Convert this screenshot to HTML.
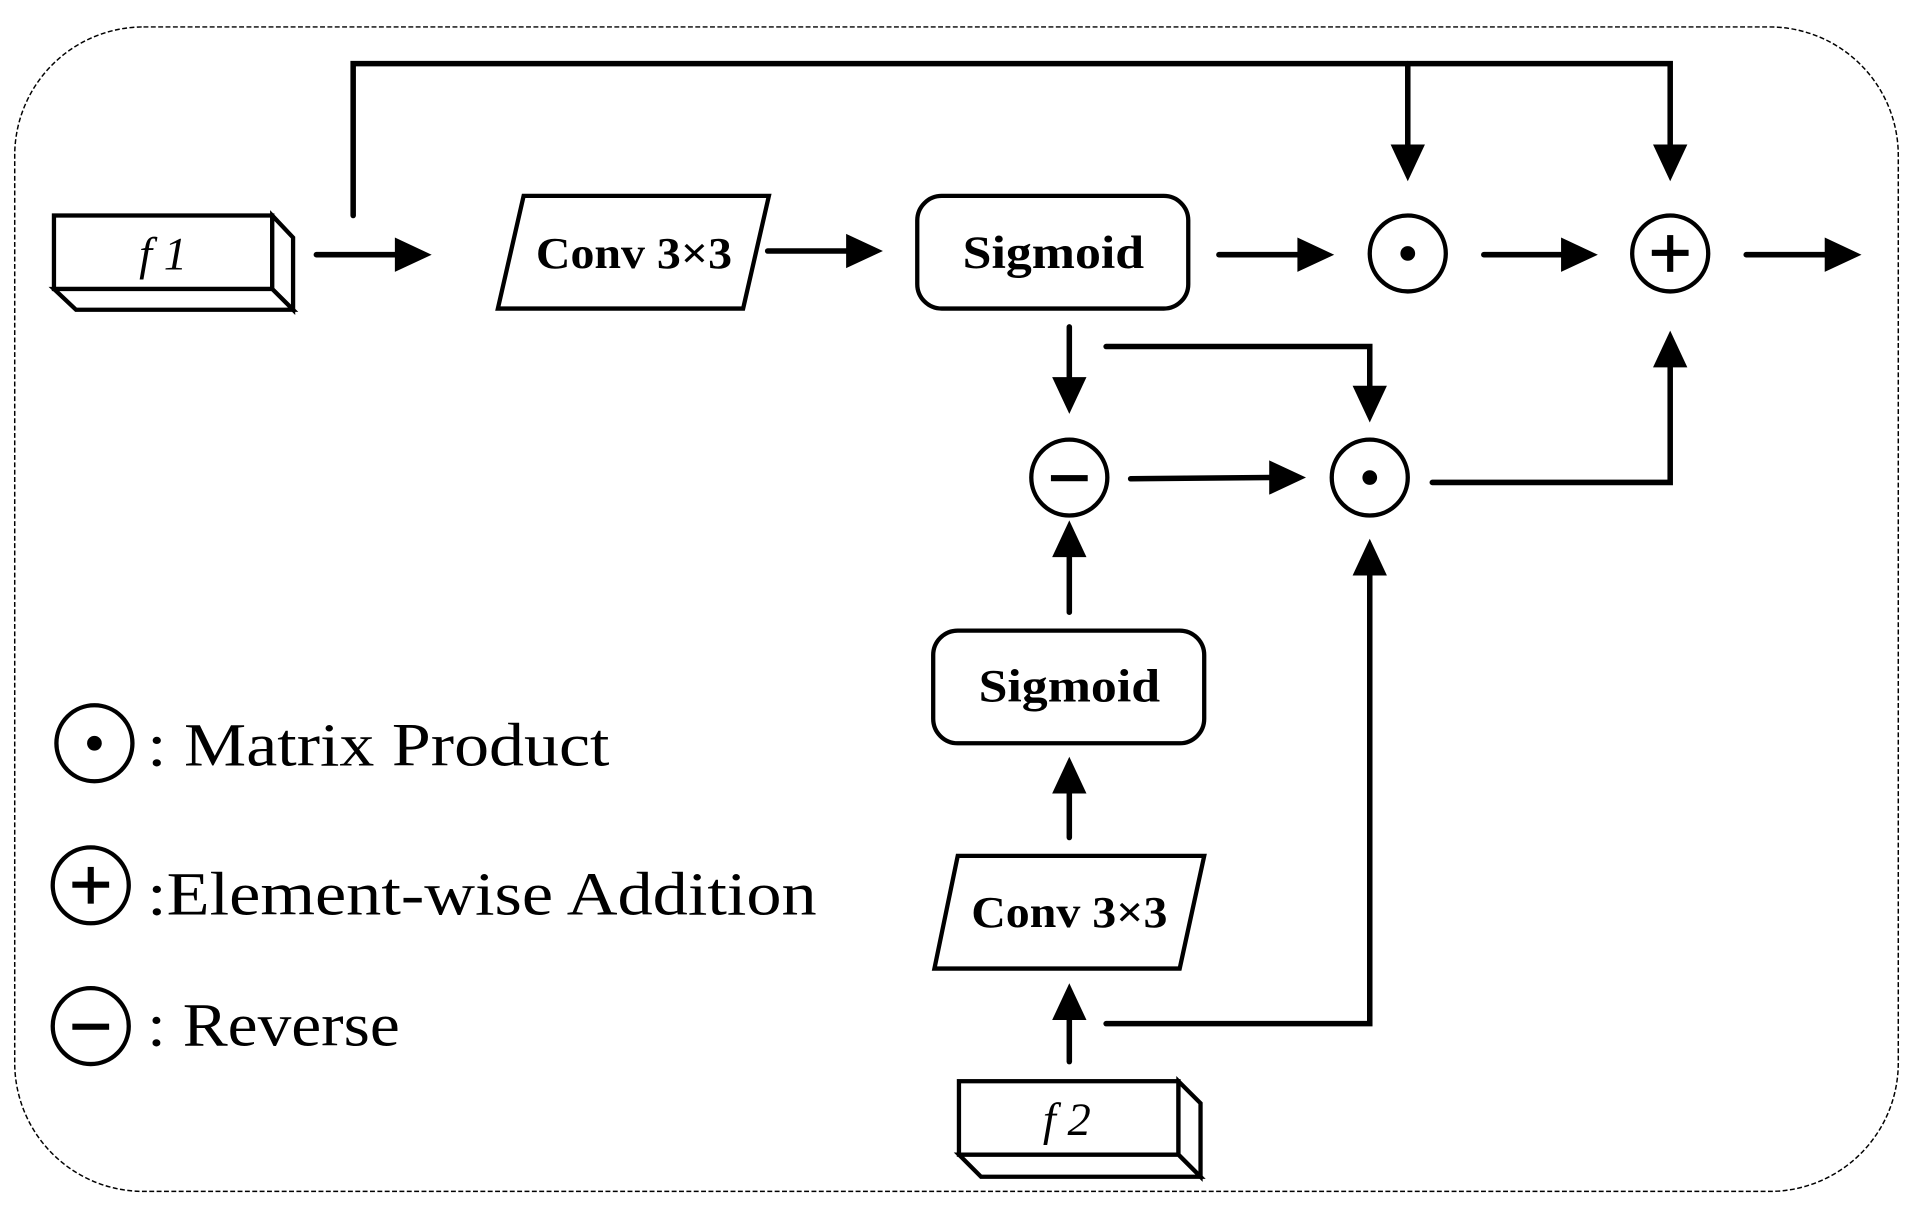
<!DOCTYPE html>
<html><head><style>html,body{margin:0;padding:0;background:#fff;}svg{display:block}</style></head>
<body>
<svg width="1913" height="1211" viewBox="0 0 1560 989" preserveAspectRatio="none" xmlns="http://www.w3.org/2000/svg">
<rect x="12" y="22" width="1536" height="951" rx="105" fill="none" stroke="#000" stroke-width="1.2" stroke-dasharray="4,2"/>
<g stroke="#000" stroke-width="4.5" fill="none" stroke-linecap="round" stroke-linejoin="miter">
<polyline points="288,176 288,52 1362,52 1362,120"/>
<line x1="1148" y1="52" x2="1148" y2="120"/>
<line x1="258" y1="208" x2="324" y2="208"/>
<line x1="626" y1="205" x2="692" y2="205"/>
<line x1="994" y1="208" x2="1060" y2="208"/>
<line x1="1210" y1="208" x2="1275" y2="208"/>
<line x1="1424" y1="208" x2="1490" y2="208"/>
<line x1="872" y1="267" x2="872" y2="310"/>
<polyline points="902,283 1117,283 1117,317"/>
<line x1="922" y1="391" x2="1037" y2="390"/>
<polyline points="1168,394 1362,394 1362,298"/>
<line x1="872" y1="500" x2="872" y2="453"/>
<line x1="872" y1="684" x2="872" y2="646"/>
<line x1="872" y1="867" x2="872" y2="831"/>
<polyline points="902,836 1117,836 1117,468"/>
</g>
<g fill="#000">
<polygon points="1134,118 1148,148 1162,118"/>
<polygon points="1348,118 1362,148 1376,118"/>
<polygon points="322,194 352,208 322,222"/>
<polygon points="690,191 720,205 690,219"/>
<polygon points="1058,194 1088,208 1058,222"/>
<polygon points="1273,194 1303,208 1273,222"/>
<polygon points="1488,194 1518,208 1488,222"/>
<polygon points="858,308 872,338 886,308"/>
<polygon points="1103,315 1117,345 1131,315"/>
<polygon points="1035,376 1065,390 1035,404"/>
<polygon points="1348,300 1362,270 1376,300"/>
<polygon points="858,455 872,425 886,455"/>
<polygon points="858,648 872,618 886,648"/>
<polygon points="858,833 872,803 886,833"/>
<polygon points="1103,470 1117,440 1131,470"/>
</g>
<g stroke="#000" stroke-width="3.5" fill="#fff">
<rect x="44" y="176" width="178" height="60"/>
<polygon points="222,176 239,194 239,253 222,236"/>
<polygon points="44,236 222,236 239,253 62,253"/>
<polygon points="427,160 627,160 606,252 406,252"/>
<rect x="748" y="160" width="221" height="92" rx="20"/>
<ellipse cx="1148" cy="207" rx="31" ry="31"/>
<ellipse cx="1362" cy="207" rx="31" ry="31"/>
<ellipse cx="872" cy="390" rx="31" ry="31"/>
<ellipse cx="1117" cy="390" rx="31" ry="31"/>
<rect x="761" y="515" width="221" height="92" rx="20"/>
<polygon points="781,699 982,699 962,791 762,791"/>
<rect x="782" y="883" width="179" height="60"/>
<polygon points="961,883 979,901 979,961 961,943"/>
<polygon points="782,943 961,943 979,961 800,961"/>
<ellipse cx="77" cy="607" rx="31" ry="31"/>
<ellipse cx="74" cy="723" rx="31" ry="31"/>
<ellipse cx="74" cy="838" rx="31" ry="31"/>
</g>
<g fill="#000">
<circle cx="1148" cy="207" r="6"/>
<circle cx="1117" cy="390" r="6"/>
<circle cx="77" cy="607" r="6"/>
<rect x="1347" y="204" width="30" height="5"/><rect x="1359.5" y="192" width="5" height="30"/>
<rect x="59" y="720" width="30" height="5"/><rect x="71.5" y="708" width="5" height="30"/>
<rect x="857" y="388" width="30" height="5"/>
<rect x="59" y="836" width="30" height="5"/>
</g>
<g font-family="Liberation Serif, serif" fill="#000">
<text x="133" y="220" font-size="38" font-style="italic" text-anchor="middle">f 1</text>
<text x="870" y="927" font-size="38" font-style="italic" text-anchor="middle">f 2</text>
<text x="517" y="219" font-size="36" font-weight="bold" text-anchor="middle" textLength="160" lengthAdjust="spacingAndGlyphs">Conv 3×3</text>
<text x="872" y="757" font-size="36" font-weight="bold" text-anchor="middle" textLength="160" lengthAdjust="spacingAndGlyphs">Conv 3×3</text>
<text x="859" y="219" font-size="38" font-weight="bold" text-anchor="middle" textLength="148" lengthAdjust="spacingAndGlyphs">Sigmoid</text>
<text x="872" y="573" font-size="38" font-weight="bold" text-anchor="middle" textLength="148" lengthAdjust="spacingAndGlyphs">Sigmoid</text>
<text x="120" y="625" font-size="50" textLength="377" lengthAdjust="spacingAndGlyphs">: Matrix Product</text>
<text x="120" y="747" font-size="50" textLength="546" lengthAdjust="spacingAndGlyphs">:Element-wise Addition</text>
<text x="120" y="854" font-size="50" textLength="206" lengthAdjust="spacingAndGlyphs">: Reverse</text>
</g>
</svg>
</body></html>
